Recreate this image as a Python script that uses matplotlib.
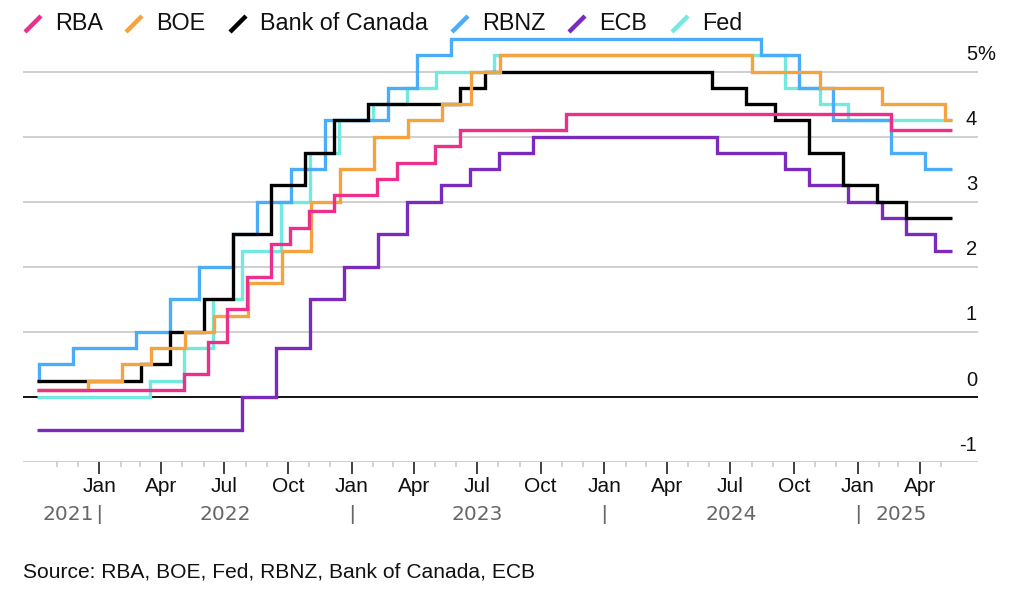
import matplotlib
matplotlib.use("Agg")
import matplotlib.pyplot as plt
import matplotlib.dates as mdates
from matplotlib.lines import Line2D
import matplotlib.transforms as mtransforms
import numpy as np
import pandas as pd

plt.rcParams['font.family'] = ['Liberation Sans', 'DejaVu Sans']

# ---- data: policy rate change dates and levels (%) ----
start_date = "2021-10-03"
end_date = "2025-05-18"

rba_dates = [start_date, "2022-05-03", "2022-06-07", "2022-07-05", "2022-08-02", "2022-09-06",
             "2022-10-04", "2022-11-01", "2022-12-06", "2023-02-07", "2023-03-07", "2023-05-02",
             "2023-06-06", "2023-11-07", "2025-02-18"]
rba_rates = [0.10, 0.35, 0.85, 1.35, 1.85, 2.35, 2.60, 2.85, 3.10, 3.35, 3.60, 3.85, 4.10, 4.35, 4.10]

boe_dates = [start_date, "2021-12-16", "2022-02-03", "2022-03-17", "2022-05-05", "2022-06-16",
             "2022-08-04", "2022-09-22", "2022-11-03", "2022-12-15", "2023-02-02", "2023-03-23",
             "2023-05-11", "2023-06-22", "2023-08-03", "2024-08-01", "2024-11-07", "2025-02-06",
             "2025-05-08"]
boe_rates = [0.10, 0.25, 0.50, 0.75, 1.00, 1.25, 1.75, 2.25, 3.00, 3.50, 4.00, 4.25, 4.50, 5.00,
             5.25, 5.00, 4.75, 4.50, 4.25]

boc_dates = [start_date, "2022-03-02", "2022-04-13", "2022-06-01", "2022-07-13", "2022-09-07",
             "2022-10-26", "2022-12-07", "2023-01-25", "2023-06-07", "2023-07-12", "2024-06-05",
             "2024-07-24", "2024-09-04", "2024-10-23", "2024-12-11", "2025-01-29", "2025-03-12"]
boc_rates = [0.25, 0.50, 1.00, 1.50, 2.50, 3.25, 3.75, 4.25, 4.50, 4.75, 5.00, 4.75, 4.50, 4.25,
             3.75, 3.25, 3.00, 2.75]

rbnz_dates = [start_date, "2021-10-06", "2021-11-24", "2022-02-23", "2022-04-13", "2022-05-25",
              "2022-07-13", "2022-08-17", "2022-10-05", "2022-11-23", "2023-02-22", "2023-04-05",
              "2023-05-24", "2024-08-14", "2024-10-09", "2024-11-27", "2025-02-19", "2025-04-09"]
rbnz_rates = [0.25, 0.50, 0.75, 1.00, 1.50, 2.00, 2.50, 3.00, 3.50, 4.25, 4.75, 5.25, 5.50, 5.25,
              4.75, 4.25, 3.75, 3.50]

ecb_dates = [start_date, "2022-07-27", "2022-09-14", "2022-11-02", "2022-12-21", "2023-02-08",
             "2023-03-22", "2023-05-10", "2023-06-21", "2023-08-02", "2023-09-20", "2024-06-12",
             "2024-09-18", "2024-10-23", "2024-12-18", "2025-02-05", "2025-03-12", "2025-04-23"]
ecb_rates = [-0.50, 0.00, 0.75, 1.50, 2.00, 2.50, 3.00, 3.25, 3.50, 3.75, 4.00, 3.75, 3.50, 3.25,
             3.00, 2.75, 2.50, 2.25]

fed_dates = [start_date, "2022-03-16", "2022-05-04", "2022-06-15", "2022-07-27", "2022-09-21",
             "2022-11-02", "2022-12-14", "2023-02-01", "2023-03-22", "2023-05-03", "2023-07-26",
             "2024-09-18", "2024-11-07", "2024-12-18"]
fed_rates = [0.00, 0.25, 0.75, 1.50, 2.25, 3.00, 3.75, 4.25, 4.50, 4.75, 5.00, 5.25, 4.75, 4.50,
             4.25]

series_names = ["RBA", "BOE", "Bank of Canada", "RBNZ", "ECB", "Fed"]
series_dates = [rba_dates, boe_dates, boc_dates, rbnz_dates, ecb_dates, fed_dates]
series_rates = [rba_rates, boe_rates, boc_rates, rbnz_rates, ecb_rates, fed_rates]
colors = ["#ec2f8a", "#f5a340", "#000000", "#4badf7", "#7a2bbd", "#72eadf"]

y_ticks = [-1, 0, 1, 2, 3, 4, 5]
year_labels = ["2021", "2022", "2023", "2024", "2025"]
year_label_pos = ["2021-12-25", "2022-07-02", "2023-07-02", "2024-07-02", "2025-01-27"]
year_label_ha = ["right", "center", "center", "center", "left"]
year_separators = ["2022-01-01", "2023-01-01", "2024-01-01", "2025-01-01"]

# ---- figure ----
W, H = 1024, 597
fig = plt.figure(figsize=(W / 100, H / 100), dpi=100)

def fx(x):
    return x / W

def fy(y):
    return 1 - y / H

def dn(s):
    return mdates.date2num(pd.Timestamp(s))

ylo, yhi = -1.0, 5.6
ax_left, ax_right = 23, 978
ax_bottom = 397 + 65.1
ax_top = 397 - 65.1 * yhi
ax = fig.add_axes([fx(ax_left), fy(ax_bottom), fx(ax_right) - fx(ax_left), fy(ax_top) - fy(ax_bottom)])
ax.set_ylim(ylo, yhi)
ax.set_xlim(dn("2021-09-13"), dn("2025-06-24"))
for s in ax.spines.values():
    s.set_visible(False)

# gridlines
for v in y_ticks:
    if v == 0:
        ax.axhline(v, color="#111111", lw=1.4, zorder=1)
    else:
        ax.axhline(v, color="#cfcfcf", lw=1.4, zorder=1)

# lines (draw in reverse legend order so RBA ends up on top)
n = len(series_names)
for i in reversed(range(n)):
    dd = pd.to_datetime(series_dates[i] + [end_date])
    rr = list(series_rates[i]) + [series_rates[i][-1]]
    ax.step(mdates.date2num(dd), rr, where="post", color=colors[i], lw=2.4, zorder=10 - i,
            solid_joinstyle="miter", solid_capstyle="butt")

# x ticks
major = pd.date_range("2022-01-01", "2025-04-01", freq="QS")
minor = pd.date_range("2021-11-01", "2025-05-01", freq="MS")
ax.set_xticks(mdates.date2num(major))
ax.set_xticklabels([d.strftime("%b") for d in major])
ax.set_xticks(mdates.date2num(minor), minor=True)
ax.tick_params(axis="x", which="major", length=8.5, width=1.3, color="#333333",
               labelsize=15, pad=2.5, labelcolor="#111111")
ax.tick_params(axis="x", which="minor", length=3.8, width=1.1, color="#c8c8c8")
ax.tick_params(axis="y", left=False, labelleft=False)

# y labels on right, above gridlines
for v in y_ticks:
    yp = 397 - 65.1 * v - 17
    ax.text(fx(977), fy(yp), str(v), transform=fig.transFigure, ha="right", va="center",
            fontsize=14.5, color="#111111")
    if v == 5:
        ax.text(fx(977), fy(yp), "%", transform=fig.transFigure, ha="left", va="center",
                fontsize=14.5, color="#111111")

# year labels
trans = mtransforms.blended_transform_factory(ax.transData, fig.transFigure)
ymid = fy(514)
for lab, pos, ha in zip(year_labels, year_label_pos, year_label_ha):
    ax.text(dn(pos), ymid, lab, transform=trans, ha=ha, va="center",
            fontsize=14.5, color="#666666", family="DejaVu Sans")
for yr in year_separators:
    ax.text(dn(yr), ymid, "|", transform=trans, ha="center", va="center",
            fontsize=15, color="#666666")

# legend
leg_slash_x = [25, 126, 230, 452, 569, 672]
for name, c, x0 in zip(series_names, colors, leg_slash_x):
    fig.add_artist(Line2D([fx(x0), fx(x0 + 16)], [fy(32), fy(16)], color=c, lw=3.2,
                          solid_capstyle="butt", transform=fig.transFigure))
    fig.text(fx(x0 + 30), fy(24), name, ha="left", va="center", fontsize=16.8, color="#111111")

# source
fig.text(fx(23), fy(572), "Source: RBA, BOE, Fed, RBNZ, Bank of Canada, ECB", ha="left",
         va="center", fontsize=15.1, color="#111111")

fig.savefig("out.png", dpi=100)
